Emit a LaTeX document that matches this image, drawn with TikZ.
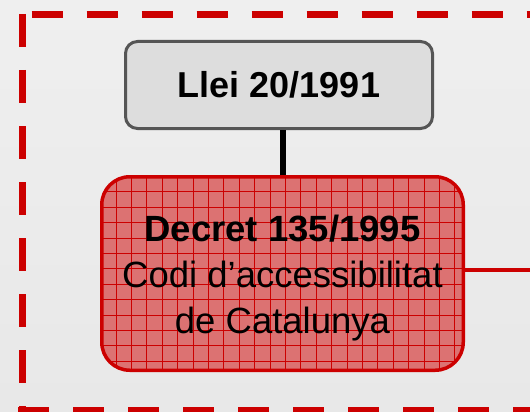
\documentclass[tikz,border=0pt]{standalone}
\usepackage{fontspec}
\setmainfont{Liberation Sans}
\definecolor{bgtop}{HTML}{EFEFEF}
\definecolor{bgbottom}{HTML}{E8E8E8}
\definecolor{legalred}{HTML}{CC0000}
\definecolor{boxgray}{HTML}{DDDDDD}
\definecolor{boxedge}{HTML}{555555}
\definecolor{salmon}{HTML}{DC7272}
\tikzset{
  lawbox/.style={draw=boxedge, line width=3pt, fill=boxgray, rounded corners=12pt,
    minimum width=307pt, minimum height=87pt, inner sep=0pt,
    font=\fontsize{36}{42}\selectfont\bfseries},
  gridline/.style={legalred, line width=0.7pt},
  decretbox/.style={draw=legalred, line width=3.5pt, fill=salmon, rounded corners=28pt,
    minimum width=361.5pt, minimum height=193.5pt, inner sep=0pt,
    path picture={
      \foreach \k in {0,...,22}
        \draw[gridline] ([xshift=14.25pt+\k*15.4pt]path picture bounding box.north west)
          -- ([xshift=14.25pt+\k*15.4pt]path picture bounding box.south west);
      \foreach \k in {0,...,11}
        \draw[gridline] ([yshift=-14.95pt-\k*15.4pt]path picture bounding box.north west)
          -- ([yshift=-14.95pt-\k*15.4pt]path picture bounding box.north east);
    }},
  framedash/.style={legalred, line width=7.5pt},
}
\begin{document}
\begin{tikzpicture}[x=1pt,y=-1pt]
\useasboundingbox (0,0) rectangle (530,412);
\clip (0,0) rectangle (530,412);
\shade[top color=bgtop, bottom color=bgbottom] (0,0) rectangle (530,412);
% dashed frame
\draw[framedash, dash pattern=on 33pt off 23pt] (22.5,14) -- (22.5,412);
\draw[framedash, dash pattern=on 31pt off 24pt] (31.7,14.5) -- (530,14.5);
\draw[framedash, dash pattern=on 31pt off 24pt] (18,410.5) -- (530,410.5);
% boxes
\node[lawbox] (llei) at (279,85) {Llei 20/1991};
\node[decretbox] (decret) at (282.5,273.5) {};
\node[align=center, font=\fontsize{36.5}{45.8}\selectfont] (decrettext) at (282.5,278.2)
  {\textbf{Decret 135/1995}\\Codi d’accessibilitat\\de Catalunya};
\coordinate (rightend) at (530,270);
% connectors
\draw[line width=6pt] (decret.north) -- (decret.north |- llei.south);
\draw[legalred, line width=4pt] (rightend -| decret.east) -- (rightend);
\end{tikzpicture}
\end{document}
